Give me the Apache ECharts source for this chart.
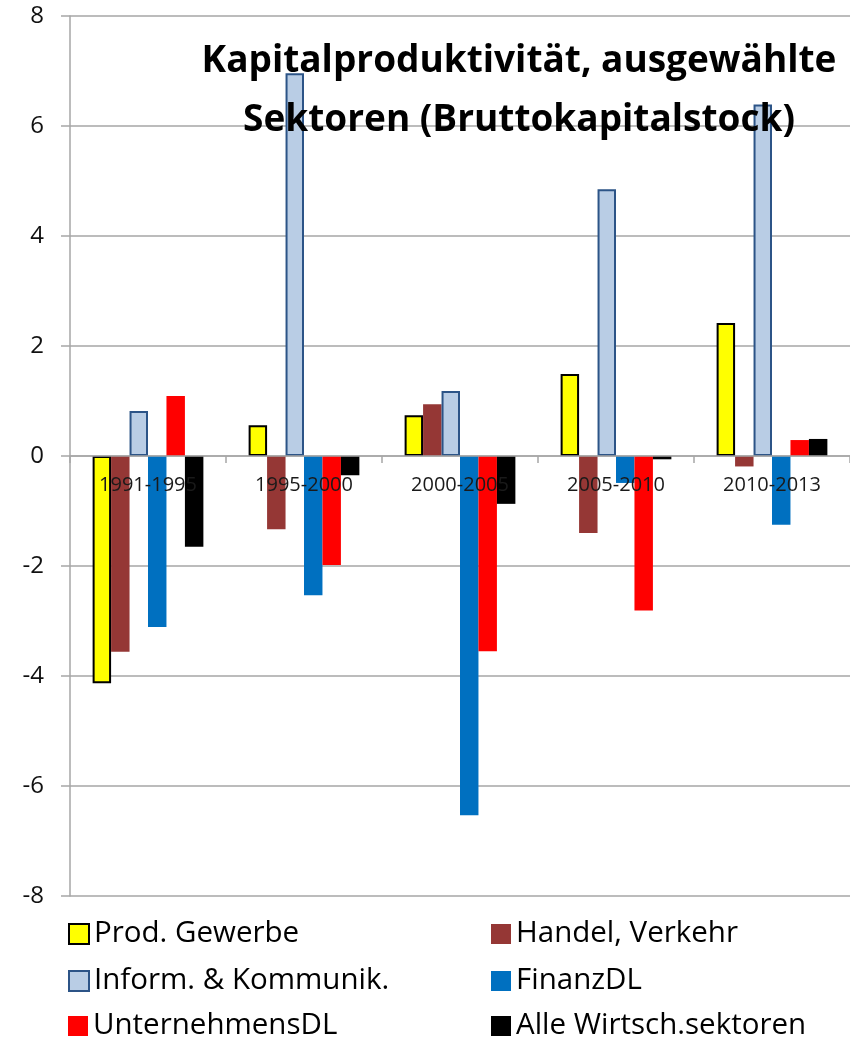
<!DOCTYPE html>
<html>
<head>
<meta charset="utf-8">
<script src="https://cdn.jsdelivr.net/npm/echarts@6/dist/echarts.min.js"></script>
<style>
html,body{margin:0;padding:0;background:#fff;}
#chart{width:850px;height:1041px;}
</style>
</head>
<body>
<div id="chart"></div>
<script>
const categories = ["1991-1995", "1995-2000", "2000-2005", "2005-2010", "2010-2013"];
const prodGewerbe = [-4.13, 0.56, 0.74, 1.49, 2.42];
const handelVerkehr = [-3.56, -1.33, 0.94, -1.40, -0.19];
const informKommunik = [0.82, 6.96, 1.18, 4.85, 6.39];
const finanzDL = [-3.11, -2.53, -6.53, -0.49, -1.25];
const unternehmensDL = [1.09, -1.98, -3.55, -2.81, 0.29];
const alleSektoren = [-1.65, -0.35, -0.87, -0.06, 0.31];
const seriesNames = ["Prod. Gewerbe", "Handel, Verkehr", "Inform. & Kommunik.", "FinanzDL", "UnternehmensDL", "Alle Wirtsch.sektoren"];
const yTicks = { min: -8, max: 8, interval: 2 };

const FONT = '"Open Sans", "Liberation Sans", sans-serif';
const GRID_COLOR = '#a6a6a6';

const chart = echarts.init(document.getElementById('chart'), null, { renderer: 'canvas' });

function bar(name, data, color, borderColor, borderWidth) {
  return {
    name: name,
    type: 'bar',
    data: data,
    barGap: '0%',
    barCategoryGap: '29%',
    z: 2,
    itemStyle: {
      color: color,
      borderColor: borderColor || color,
      borderWidth: borderWidth || 0
    },
    emphasis: { disabled: true }
  };
}

const legendText = { fontFamily: FONT, fontSize: 29.5, color: '#000' };
// two columns, three rows; one legend component per entry
const legendCols = [68, 491];
const legendRows = [919, 966, 1011];
const legends = seriesNames.map(function (n, i) {
  return {
    left: legendCols[i % 2],
    top: legendRows[Math.floor(i / 2)],
    padding: 0,
    itemWidth: 20,
    itemHeight: 20,
    icon: 'rect',
    textStyle: legendText,
    data: [n]
  };
});

chart.setOption({
  animation: false,
  backgroundColor: '#fff',
  title: {
    text: 'Kapitalproduktivität, ausgewählte\nSektoren (Bruttokapitalstock)',
    left: 514,
    top: 27,
    textAlign: 'center',
    textStyle: {
      fontFamily: FONT,
      fontSize: 37,
      fontWeight: 'bold',
      color: '#000',
      lineHeight: 59
    }
  },
  grid: { left: 70, right: 0, top: 16, bottom: 145, containLabel: false },
  legend: legends,
  xAxis: {
    type: 'category',
    data: categories,
    offset: -440,
    z: 5,
    axisLine: { onZero: false, lineStyle: { color: GRID_COLOR, width: 1.5 } },
    axisTick: { show: true, length: 7, lineStyle: { color: GRID_COLOR, width: 1.5 } },
    axisLabel: { fontFamily: FONT, fontSize: 20, color: '#1a1a1a', margin: 19 },
    splitLine: { show: false }
  },
  yAxis: {
    type: 'value',
    min: yTicks.min,
    max: yTicks.max,
    interval: yTicks.interval,
    axisLine: { show: true, lineStyle: { color: GRID_COLOR, width: 1.5 } },
    axisTick: { show: true, length: 9, lineStyle: { color: GRID_COLOR, width: 1.5 } },
    axisLabel: { fontFamily: FONT, fontSize: 24, color: '#111', margin: 26 },
    splitLine: { show: true, lineStyle: { color: GRID_COLOR, width: 1.5 } }
  },
  series: [
    bar(seriesNames[0], prodGewerbe, '#FFFF00', '#000000', 2),
    bar(seriesNames[1], handelVerkehr, '#953735'),
    bar(seriesNames[2], informKommunik, '#B9CDE5', '#2C5487', 2),
    bar(seriesNames[3], finanzDL, '#0070C0'),
    bar(seriesNames[4], unternehmensDL, '#FF0000'),
    bar(seriesNames[5], alleSektoren, '#000000')
  ]
});
</script>
</body>
</html>
